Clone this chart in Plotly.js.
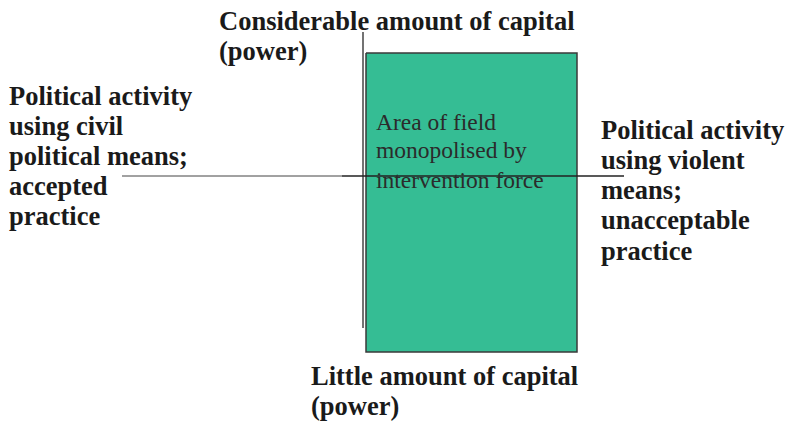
<!DOCTYPE html>
<html>
<head>
<meta charset="utf-8">
<script src="https://cdn.plot.ly/plotly-3.0.1.min.js"></script>
<style>html,body{margin:0;padding:0;background:#fff;}#chart{width:786px;height:422px;}</style>
</head>
<body>
<div id="chart"></div>
<script>
// Diagram geometry (in pixel-like data units of the 786x422 canvas)
const rectX = [366, 577, 577, 366, 366];
const rectY = [53, 53, 352, 352, 53];
const vLineX = [363, 363];
const vLineY = [32, 328];
const hLineLeftX = [122, 342];
const hLineLeftY = [176, 176];
const hLineRightX = [342, 624];
const hLineRightY = [176, 176];

// Label blocks: lines of text, left x, and baseline of each line
const topLines = ["Considerable amount of capital", "(power)"];
const topBaselines = [27, 57];
const leftLines = ["Political activity", "using civil", "political means;", "accepted", "practice"];
const leftBaselines = [102, 132, 162, 192, 222];
const rightLines = ["Political activity", "using violent", "means;", "unacceptable", "practice"];
const rightBaselines = [137, 167, 197, 227, 258];
const bottomLines = ["Little amount of capital", "(power)"];
const bottomBaselines = [382, 412];
const innerLines = ["Area of field", "monopolised by", "intervention force"];
const innerBaselines = [129, 157, 187];

const blockX = {top: 217, left: 7, right: 599, bottom: 309, inner: 374};

const traces = [
  {x: rectX, y: rectY, type: 'scatter', mode: 'lines', fill: 'toself',
   fillcolor: '#35BD94', line: {color: '#3a3a3a', width: 1.5}, hoverinfo: 'skip'},
  {x: vLineX, y: vLineY, type: 'scatter', mode: 'lines',
   line: {color: '#444', width: 1.5}, hoverinfo: 'skip'},
  {x: hLineLeftX, y: hLineLeftY, type: 'scatter', mode: 'lines',
   line: {color: '#444', width: 1}, hoverinfo: 'skip'},
  {x: hLineRightX, y: hLineRightY, type: 'scatter', mode: 'lines',
   line: {color: '#222', width: 1.3}, hoverinfo: 'skip'}
];

const FAM = '"Times New Roman", "Liberation Serif", Times, serif';
function block(lines, baselines, x, size, bold, color, shift) {
  return lines.map((t, i) => ({
    x: x, y: baselines[i] - 0.34 * size + shift, xref: 'x', yref: 'y',
    text: bold ? '<b>' + t + '</b>' : t,
    showarrow: false, xanchor: 'left', yanchor: 'middle', align: 'left',
    font: {family: FAM, size: size, color: color}
  }));
}

const annotations = [].concat(
  block(topLines, topBaselines, blockX.top, 26.5, true, '#1a1a1a', 3),
  block(leftLines, leftBaselines, blockX.left, 26.5, true, '#1a1a1a', 3.5),
  block(rightLines, rightBaselines, blockX.right, 26.5, true, '#1a1a1a', 2),
  block(bottomLines, bottomBaselines, blockX.bottom, 26.5, true, '#1a1a1a', 3.5),
  block(innerLines, innerBaselines, blockX.inner, 23.5, false, '#2b2b2b', 1)
);

const layout = {
  width: 786, height: 422,
  margin: {l: 0, r: 0, t: 0, b: 0},
  paper_bgcolor: '#fff', plot_bgcolor: '#fff',
  showlegend: false,
  xaxis: {range: [0, 786], visible: false, fixedrange: true},
  yaxis: {range: [422, 0], visible: false, fixedrange: true},
  annotations: annotations
};

Plotly.newPlot('chart', traces, layout, {staticPlot: true, displayModeBar: false});
</script>
</body>
</html>
